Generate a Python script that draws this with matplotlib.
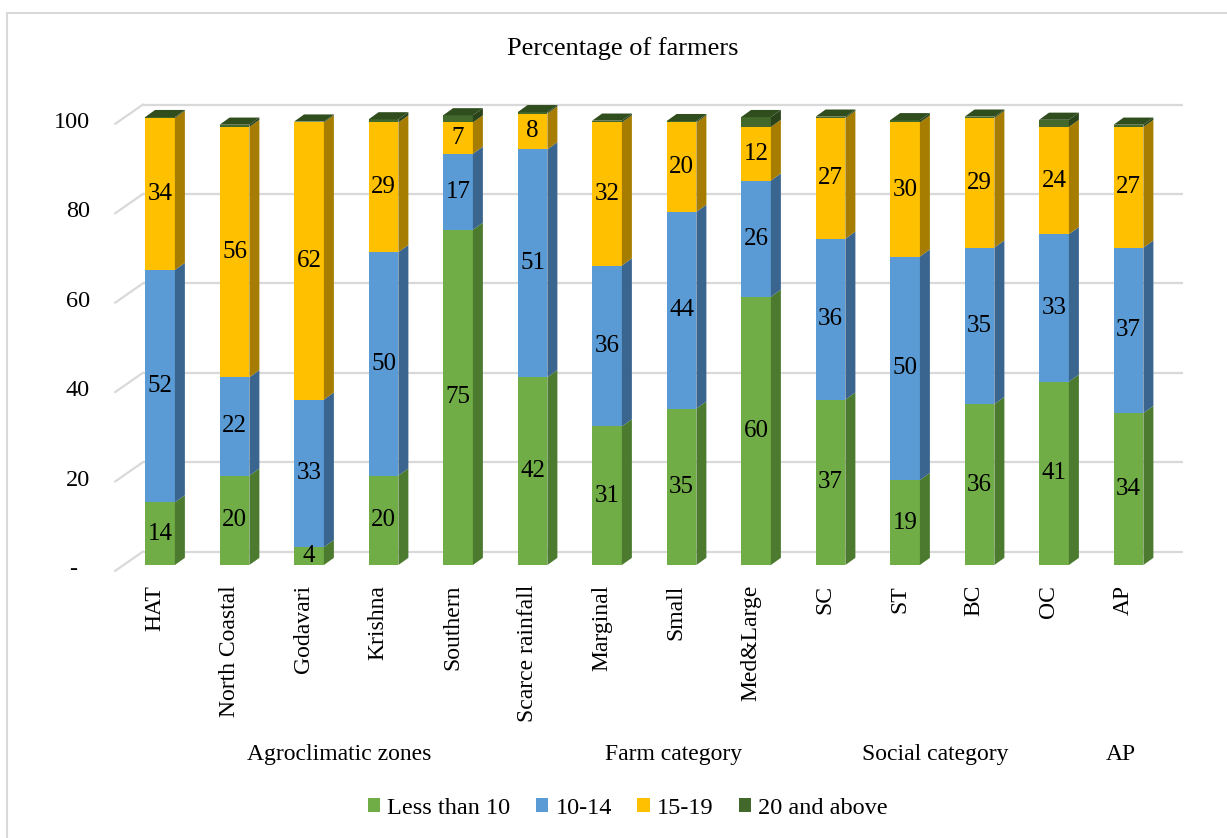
"""Stacked 3-D style bar chart: percentage of farmers by group and band."""

import matplotlib.pyplot as plt
from matplotlib.lines import Line2D
from matplotlib.patches import Patch, Polygon

categories = [
    "HAT", "North Coastal", "Godavari", "Krishna", "Southern", "Scarce rainfall",
    "Marginal", "Small", "Med&Large", "SC", "ST", "BC", "OC", "AP",
]
less_than_10 = [14, 20, 4, 20, 75, 42, 31, 35, 60, 37, 19, 36, 41, 34]
band_10_14 = [52, 22, 33, 50, 17, 51, 36, 44, 26, 36, 50, 35, 33, 37]
band_15_19 = [34, 56, 62, 29, 7, 8, 32, 20, 12, 27, 30, 29, 24, 27]
above_20 = [0.2, 0.5, 0.2, 0.7, 1.6, 0.3, 0.4, 0.3, 2.2, 0.3, 0.5, 0.3, 1.6, 0.5]

series_names = ["Less than 10", "10-14", "15-19", "20 and above"]
groups = [
    ("Agroclimatic zones", 0, 5),
    ("Farm category", 6, 8),
    ("Social category", 9, 12),
    ("AP", 13, 13),
]
y_ticks = [0, 20, 40, 60, 80, 100]

# front, side, top face colours per series
face_colors = [
    ("#70AD47", "#4C7A2F", "#5E9439"),
    ("#5B9BD5", "#3A658E", "#4A84B8"),
    ("#FFC000", "#A67D00", "#D9A300"),
    ("#43682B", "#2A431B", "#304D1E"),
]

FONT = "Liberation Serif"
FS = 17
GRID = "#D9D9D9"

W, H = 1227, 838
fig = plt.figure(figsize=(W / 100, H / 100), dpi=100)

# pixel layout of the plotting area: bar 0 centre, bar spacing, base line, px per %
x0_px, step_px, base_px, unit_px = 160, 74.5, 565, 4.47
xlim = (-1.2, 13.9)
ylim = (-3, 107)
left_px = x0_px + xlim[0] * step_px
right_px = x0_px + xlim[1] * step_px
bottom_px = base_px - ylim[0] * unit_px
top_px = base_px - ylim[1] * unit_px
ax = fig.add_axes([left_px / W, 1 - bottom_px / H,
                   (right_px - left_px) / W, (bottom_px - top_px) / H])
ax.set_xlim(*xlim)
ax.set_ylim(*ylim)
ax.axis("off")

half_w = 0.2        # half bar width
dx, dy = 0.134, 1.6  # depth offset of bar side/top
wall_dx, wall_dy = 0.23, 3.0   # back wall offset from bar base line
front_dx, front_dy = -0.6, -1.3  # front floor edge offset
wall_end = 13.73

# back wall gridlines with left-side diagonals
for v in y_ticks:
    ax.plot([-wall_dx, wall_end], [v + wall_dy, v + wall_dy],
            color=GRID, lw=1.6, zorder=1, solid_capstyle="butt")
    ax.plot([front_dx, -wall_dx], [v + front_dy, v + wall_dy],
            color=GRID, lw=1.6, zorder=1)
    if v == 0:
        ax.text(-1.16, v - 1.0, "-", ha="center", va="center",
                fontsize=17.5, family=FONT)
    else:
        ax.text(-0.94, v - 1.0, str(v), ha="right", va="center",
                fontsize=17.5, family=FONT)

stacks = [less_than_10, band_10_14, band_15_19, above_20]
for i in range(len(categories)):
    bottom = 0.0
    xl, xr = i - half_w, i + half_w
    for s, vals in enumerate(stacks):
        v = vals[i]
        top = bottom + v
        front, side, _ = face_colors[s]
        ax.add_patch(Polygon([(xl, bottom), (xr, bottom), (xr, top), (xl, top)],
                             closed=True, facecolor=front, edgecolor="none", zorder=3))
        ax.add_patch(Polygon([(xr, bottom), (xr + dx, bottom + dy),
                              (xr + dx, top + dy), (xr, top)],
                             closed=True, facecolor=side, edgecolor="none", zorder=3))
        if s < 3:
            ax.text(i, bottom + v / 2, f"{v:g}", ha="center", va="center",
                    fontsize=18, family=FONT, zorder=5)
        bottom = top
    top_col = face_colors[3][2]
    ax.add_patch(Polygon([(xl, bottom), (xr, bottom), (xr + dx, bottom + dy),
                          (xl + dx, bottom + dy)],
                         closed=True, facecolor=top_col, edgecolor="none", zorder=4))
    ax.text(i - 0.07, -4.5, categories[i], rotation=90, ha="center", va="top",
            fontsize=FS, family=FONT)

for name, a, b in groups:
    ax.text((a + b) / 2 - 0.1, -42.3, name, ha="center", va="center",
            fontsize=FS, family=FONT)

fig.text(623 / W, 1 - 49 / H, "Percentage of farmers", ha="center", va="center",
         fontsize=19, family=FONT)

handles = [Patch(facecolor=c[0], edgecolor="none") for c in face_colors]
fig.legend(handles, series_names, loc="center", bbox_to_anchor=(628 / W, 1 - 808 / H),
           ncol=4, frameon=False, prop={"family": FONT, "size": 17.5},
           handlelength=0.5, handleheight=0.5, handletextpad=0.3, columnspacing=1.05)

# outer chart frame (top and left edges visible)
fig.add_artist(Line2D([7 / W, 1], [1 - 13 / H, 1 - 13 / H], color=GRID, lw=1.5))
fig.add_artist(Line2D([7 / W, 7 / W], [0, 1 - 13 / H], color=GRID, lw=1.5))

fig.savefig("out.png", dpi=100)
